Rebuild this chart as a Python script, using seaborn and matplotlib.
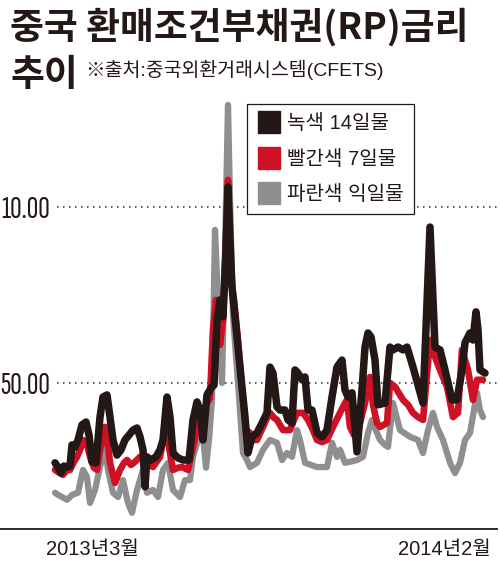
import matplotlib
matplotlib.use("Agg")
import numpy as np
import pandas as pd
import seaborn as sns
import matplotlib.pyplot as plt
from matplotlib.lines import Line2D
from matplotlib import font_manager

# ---------------- data (rates, %) ----------------
black_day = [0, 3, 6, 9, 12, 15, 17, 20, 23, 27,
             31, 34, 37, 41, 45, 48, 52, 55, 58, 62,
             66, 70, 74, 78, 82, 85, 88, 90, 92, 96,
             101, 105, 108, 112, 115, 118, 123, 128, 134, 138,
             142, 145, 148, 152, 156, 159, 162, 165, 168, 171,
             173, 175, 177, 180, 185, 190, 193, 197, 202, 207,
             212, 215, 218, 222, 225, 230, 233, 237, 240, 243,
             247, 250, 253, 257, 262, 267, 272, 277, 282, 287,
             290, 293, 297, 302, 307, 310, 313, 316, 320, 323,
             330, 335, 338, 343, 348, 352, 358, 368, 375, 380,
             385, 390, 397, 402, 407, 410, 415, 418, 421, 423,
             425, 430]
black_rate = [2.73, 2.61, 2.44, 2.64, 2.61, 2.64, 3.24, 3.18, 3.38, 3.81,
              3.89, 3.52, 2.76, 2.73, 4.03, 4.60, 4.66, 4.03, 3.38, 2.95,
              3.10, 3.38, 3.52, 3.66, 3.72, 3.47, 3.10, 2.05, 2.90, 2.81,
              2.90, 3.10, 3.38, 4.60, 4.03, 3.01, 2.87, 2.81, 2.81, 3.95,
              4.46, 4.23, 3.38, 4.66, 4.86, 4.94, 6.79, 7.36, 6.88, 8.78,
              10.57, 9.06, 7.73, 6.88, 5.45, 4.03, 3.01, 3.47, 3.58, 3.86,
              4.15, 5.45, 5.28, 4.32, 4.23, 4.23, 3.95, 3.86, 5.37, 5.28,
              5.09, 5.17, 4.23, 4.23, 3.58, 3.47, 3.66, 4.60, 5.45, 5.65,
              4.80, 4.60, 4.72, 3.04, 4.80, 6.02, 6.42, 6.31, 5.65, 4.38,
              4.43, 6.02, 5.94, 6.02, 5.94, 6.02, 5.45, 4.43, 9.43, 6.02,
              5.94, 5.37, 4.52, 4.52, 5.37, 6.14, 6.42, 6.22, 7.02, 6.51,
              5.37, 5.28]

red_day = [0, 3, 8, 12, 15, 19, 22, 25, 28, 32,
           35, 39, 42, 45, 47, 50, 53, 55, 60, 65,
           69, 72, 76, 80, 85, 88, 92, 98, 105, 110,
           113, 115, 118, 123, 127, 133, 138, 142, 145, 149,
           152, 155, 158, 161, 163, 165, 168, 171, 173, 176,
           179, 183, 187, 191, 195, 198, 202, 208, 212, 215,
           219, 222, 228, 235, 239, 242, 248, 253, 257, 262,
           267, 272, 278, 285, 290, 292, 295, 299, 302, 307,
           310, 313, 315, 318, 322, 325, 332, 335, 340, 348,
           353, 358, 363, 368, 375, 380, 385, 392, 398, 403,
           407, 413, 418, 422, 428]
red_rate = [2.53, 2.47, 2.39, 2.53, 2.53, 2.76, 2.90, 3.10, 3.38, 3.24,
            2.90, 2.59, 2.53, 3.10, 3.30, 3.75, 3.24, 2.73, 2.16, 2.53,
            2.73, 2.81, 2.67, 2.76, 2.90, 2.81, 2.73, 2.61, 2.90, 3.66,
            3.38, 3.01, 2.53, 2.59, 2.61, 2.53, 3.18, 3.66, 3.95, 4.23,
            4.43, 4.57, 6.51, 7.36, 6.79, 6.08, 6.79, 9.06, 10.77, 7.93,
            7.36, 6.22, 4.80, 3.66, 3.58, 3.38, 3.38, 3.75, 4.01, 4.15,
            4.01, 3.95, 3.66, 3.66, 3.95, 4.15, 4.15, 3.95, 3.72, 3.38,
            3.32, 3.38, 3.75, 4.15, 4.43, 4.52, 3.75, 3.52, 3.47, 4.09,
            4.43, 4.94, 5.17, 4.38, 3.86, 3.75, 3.86, 5.00, 4.89, 4.52,
            4.38, 4.15, 4.03, 3.95, 6.22, 5.74, 5.37, 4.89, 4.03, 4.15,
            5.94, 5.37, 4.52, 5.09, 5.09]

gray_day = [0, 3, 7, 12, 15, 17, 23, 28, 32, 35,
            40, 45, 50, 53, 58, 63, 68, 73, 77, 82,
            88, 92, 98, 103, 108, 113, 118, 125, 130, 135,
            138, 143, 148, 151, 154, 157, 160, 163, 165, 167,
            170, 173, 175, 178, 183, 188, 192, 195, 202, 208,
            215, 222, 227, 232, 237, 242, 245, 250, 262, 272,
            277, 282, 285, 290, 295, 302, 308, 313, 317, 322,
            325, 330, 333, 338, 345, 355, 363, 368, 373, 378,
            382, 388, 395, 400, 405, 410, 415, 422, 425, 428]
gray_rate = [1.88, 1.82, 1.76, 1.68, 1.76, 1.82, 1.88, 2.53, 2.33, 1.59,
             1.96, 2.61, 3.18, 2.53, 1.88, 1.76, 2.24, 1.59, 1.31, 1.96,
             2.53, 1.88, 1.96, 1.76, 2.53, 2.73, 1.96, 1.76, 2.24, 2.24,
             2.90, 3.38, 3.47, 2.59, 3.38, 4.52, 9.35, 7.36, 6.22, 5.00,
             8.78, 12.90, 10.20, 6.88, 5.00, 3.01, 2.81, 2.61, 2.73, 3.10,
             3.38, 3.30, 2.81, 3.01, 2.90, 3.66, 3.38, 2.73, 2.61, 2.61,
             3.30, 2.90, 3.10, 2.73, 2.76, 2.81, 2.90, 3.58, 3.95, 3.58,
             3.38, 3.24, 3.18, 4.43, 3.66, 3.47, 3.38, 3.01, 3.66, 4.15,
             3.75, 3.38, 2.73, 2.44, 2.73, 3.38, 3.58, 4.72, 4.23, 4.03]

series_names = ["녹색 14일물", "빨간색 7일물", "파란색 익일물"]
ytick_values = [5, 10]
ytick_labels = ["50.00", "10.00"]
xtick_days = [37, 389]
xtick_labels = ["2013년3월", "2014년2월"]
title_line1 = "중국 환매조건부채권(RP)금리"
title_line2 = "추이"
source_text = "※출처:중국외환거래시스템(CFETS)"

# ---------------- style ----------------
sns.set_theme(style="white")
available = {f.name for f in font_manager.fontManager.ttflist}
narrow = "Liberation Sans"
for cand in ["Sofia Sans Extra Condensed", "Archivo Narrow", "Liberation Sans Narrow"]:
    if cand in available:
        narrow = cand
        break
FAM = ["Liberation Sans", "Noto Sans CJK KR", "DejaVu Sans"]
NARROW = [narrow, "DejaVu Sans"]
CJK = ["Noto Sans CJK KR", "DejaVu Sans"]
plt.rcParams["font.family"] = FAM

INK = "#231815"
RED = "#cf1126"
GRAY = "#8f8f8f"
colors = [INK, RED, GRAY]

df = pd.concat([
    pd.DataFrame({"day": gray_day, "rate": gray_rate, "series": series_names[2]}),
    pd.DataFrame({"day": red_day, "rate": red_rate, "series": series_names[1]}),
    pd.DataFrame({"day": black_day, "rate": black_rate, "series": series_names[0]}),
])

W, H = 500, 578
fig = plt.figure(figsize=(W / 100, H / 100), dpi=100)
fig.patch.set_facecolor("white")
ax = fig.add_axes([0, 1 - 529 / H, 497 / W, (529 - 100) / H])
ax.set_facecolor("white")

widths = {series_names[0]: 5.4, series_names[1]: 4.8, series_names[2]: 4.5}
zorders = {series_names[0]: 5, series_names[1]: 4, series_names[2]: 3}
for name, col in zip(series_names[::-1], colors[::-1]):
    sub = df[df["series"] == name]
    sns.lineplot(data=sub, x="day", y="rate", ax=ax, color=col,
                 lw=widths[name], zorder=zorders[name], legend=False,
                 solid_joinstyle="round", solid_capstyle="round")

ax.set_xlim(-55, 442)
ax.set_ylim(0.85, 13.04)
ax.set_xlabel("")
ax.set_ylabel("")
for s in ["left", "top", "right"]:
    ax.spines[s].set_visible(False)
ax.spines["bottom"].set_color(INK)
ax.spines["bottom"].set_linewidth(1.3)

ax.set_yticks(ytick_values)
ax.set_yticklabels(ytick_labels, fontsize=23, color=INK, family=NARROW)
ax.tick_params(axis="y", length=0, pad=-36)
for lab in ax.get_yticklabels():
    lab.set_horizontalalignment("right")
ax.set_xticks(xtick_days)
ax.set_xticklabels(xtick_labels, fontsize=14.5, color=INK, family=FAM)
ax.tick_params(axis="x", length=0, pad=8)
ax.grid(False)

for v in ytick_values:
    ax.axhline(v, xmin=57 / 497, xmax=1.0, color="#3a3a3a", lw=1.2,
               ls=(0, (0.9, 2.7)), zorder=1)

handles = [Line2D([], [], marker="s", ls="none", markersize=16,
                  markerfacecolor=c, markeredgecolor=c) for c in colors]
leg = ax.legend(handles, series_names, loc="upper left",
                bbox_to_anchor=(247 / W, 1 - 104 / H), bbox_transform=fig.transFigure,
                frameon=True, fancybox=False, framealpha=1, edgecolor=INK,
                borderpad=0.5, handletextpad=0.3, labelspacing=0.82,
                handlelength=1.2, borderaxespad=0,
                prop={"family": FAM, "size": 14.5})
leg.get_frame().set_linewidth(0.9)
leg.set_zorder(10)
for t in leg.get_texts():
    t.set_color(INK)

fig.text(10 / W, 1 - 8 / H, title_line1, fontsize=26.5, fontweight="bold",
         family=CJK, color=INK, va="top", ha="left")
fig.text(10 / W, 1 - 57 / H, title_line2, fontsize=26.5, fontweight="bold",
         family=CJK, color=INK, va="top", ha="left")
fig.text(85 / W, 1 - 60 / H, source_text, fontsize=14,
         family=FAM, color=INK, va="top", ha="left")

fig.savefig("out.png", dpi=100, facecolor="white")
